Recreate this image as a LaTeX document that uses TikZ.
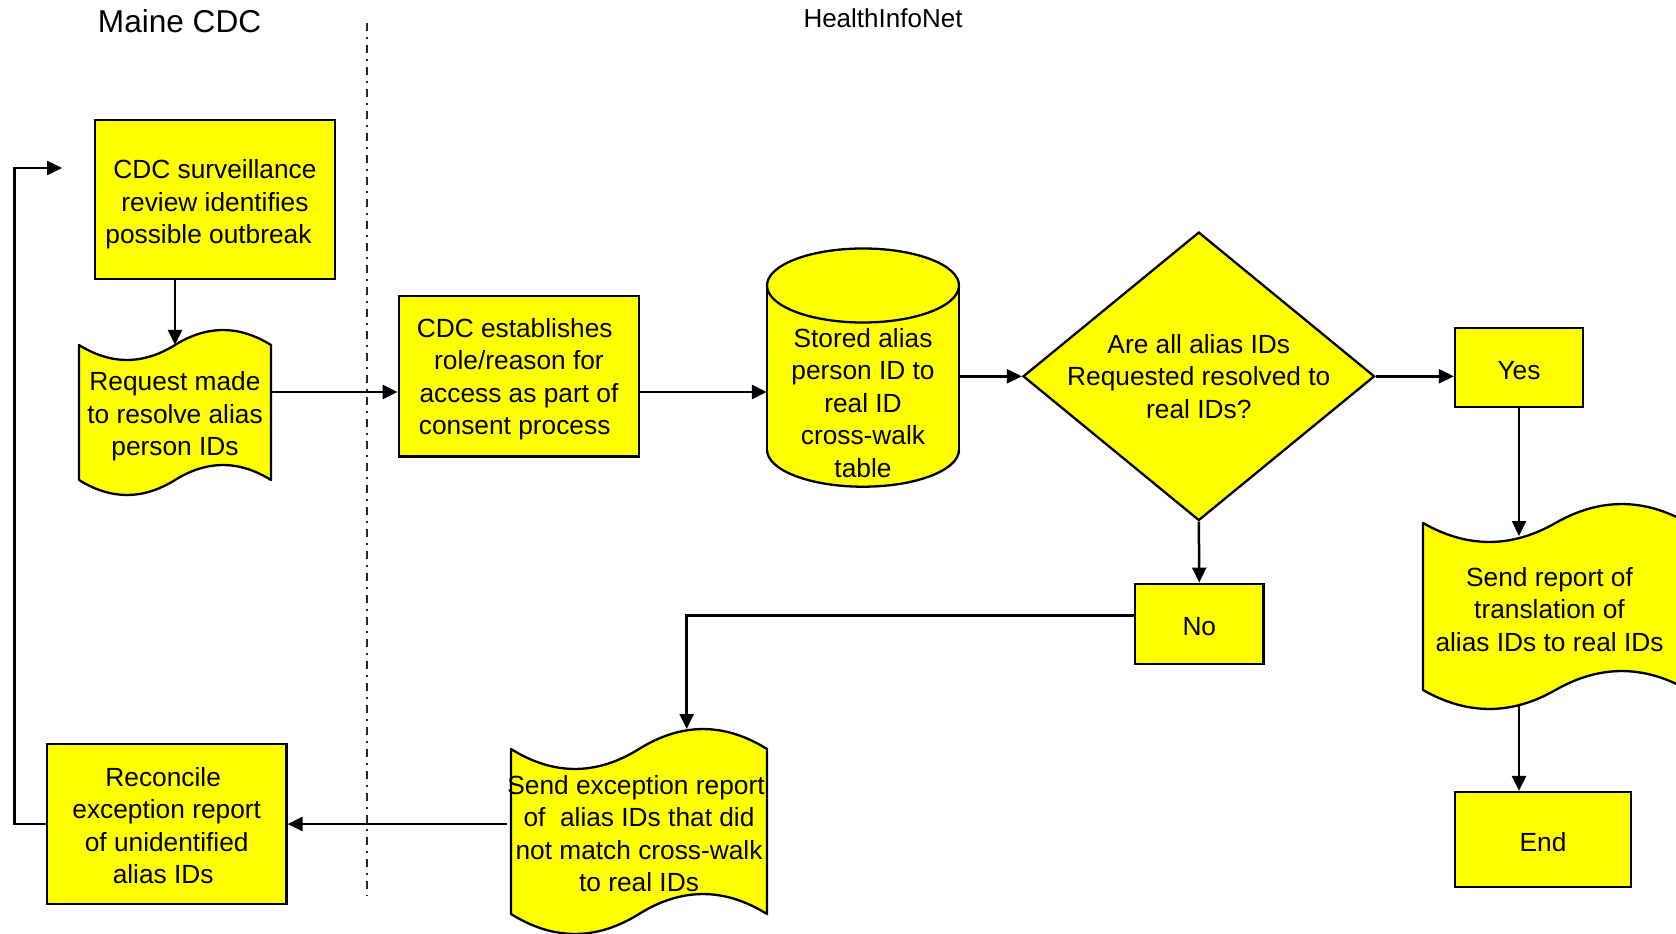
\documentclass[tikz,border=0pt]{standalone}
\usepackage{fontspec}
\setmainfont{Liberation Sans}
\usetikzlibrary{arrows.meta,shapes.geometric,calc}
\definecolor{fillyel}{RGB}{255,255,0}
\newcommand{\bodyfont}{\fontsize{26.3}{32.5}\selectfont}
% strut that pushes a text block down by half of #1
\newcommand{\dn}[1]{\rule{0pt}{\dimexpr 19.3pt+#1\relax}}
% wavy document outline: left x, top y0, width, height, amplitude
\newcommand{\wavedoc}[5]{%
  \draw[shapeline] (#1,#2)
    .. controls ({#1+#3/6},{#2+1.33*#5}) and ({#1+#3/3},{#2+1.33*#5}) .. ({#1+#3/2},#2)
    .. controls ({#1+2*#3/3},{#2-1.33*#5}) and ({#1+5*#3/6},{#2-1.33*#5}) .. ({#1+#3},#2)
    -- ({#1+#3},{#2+#4})
    .. controls ({#1+5*#3/6},{#2+#4-1.33*#5}) and ({#1+2*#3/3},{#2+#4-1.33*#5}) .. ({#1+#3/2},{#2+#4})
    .. controls ({#1+#3/3},{#2+#4+1.33*#5}) and ({#1+#3/6},{#2+#4+1.33*#5}) .. (#1,{#2+#4}) -- cycle;}
\begin{document}
\begin{tikzpicture}[x=1pt,y=-1pt,
  shapeline/.style={draw=black, fill=fillyel, line width=2.3pt, line join=round},
  box/.style={draw=black, fill=fillyel, line width=2.3pt, inner sep=0pt, align=center, font=\bodyfont},
  txt/.style={inner sep=0pt, align=center, font=\bodyfont},
  arr/.style={line width=2.5pt, -{Triangle[length=15pt,width=14pt]}},
  sep/.style={draw=black!85, line width=1.8pt, dash pattern=on 8pt off 6pt on 2pt off 6pt}]
\useasboundingbox (0,0) rectangle (1676,934);
\fill[white] (0,0) rectangle (1676,934);

% headers
\node[inner sep=0pt, font=\fontsize{31.6}{36}\selectfont] (hdrA) at (179.6,21.4) {Maine CDC};
\node[inner sep=0pt, font=\fontsize{26}{30}\selectfont] (hdrB) at (883,18) {HealthInfoNet};

% swimlane separator
\coordinate (sepTop) at (366.7,23);
\coordinate (sepBot) at (366.7,896);
\draw[sep] (sepTop) -- (sepBot);

% box 1
\node[box, minimum width=240pt, minimum height=159pt] (box1) at (215,199.5)
  {\dn{9.6pt}CDC surveillance\\review identifies\\possible outbreak\hspace*{13pt}};

% document 1
\wavedoc{79}{345}{192}{135}{15}
\node[txt, minimum width=192pt, minimum height=135pt] (doc1) at (175,412.5)
  {\dn{7.5pt}Request made\\to resolve alias\\person IDs};

% box 2
\node[box, minimum width=240.5pt, minimum height=160.4pt] (box2) at (519,376.2)
  {\dn{5.4pt}CDC establishes\hspace*{8.6pt}\\role/reason for\hspace*{8.6pt}\\access as part of\hspace*{8.6pt}\\consent process\hspace*{8.6pt}};

% cylinder
\fill[fillyel] (863,449.7) ellipse [x radius=96, y radius=37];
\fill[fillyel] (767,285.5) rectangle (959,449.7);
\draw[line width=2.3pt] (767,285.5) -- (767,449.7);
\draw[line width=2.3pt] (959,285.5) -- (959,449.7);
\draw[line width=2.3pt] (767,449.7) arc [start angle=180, end angle=0, x radius=96, y radius=37];
\draw[shapeline] (863,285.5) ellipse [x radius=96, y radius=37];
\node[inner sep=0pt, minimum width=192pt, minimum height=239pt] (cyl) at (863,367.5) {};
\node[txt] (cyltext) at (863,402.7)
  {Stored alias\\person ID to\\real ID\hspace*{10pt}\\cross-walk\\table};

% diamond
\node[diamond, draw=black, fill=fillyel, line width=2.3pt, inner sep=0pt,
  minimum width=351.6pt, minimum height=288.5pt] (dia) at (1198.8,376.3) {};
\node[txt] (diatext) at (1198.8,376.3)
  {Are all alias IDs\\Requested resolved to\\real IDs?};

% yes
\node[box, minimum width=128pt, minimum height=79pt] (yes) at (1519,367.5) {\dn{4.3pt}Yes};

% document 3 (cut by the right edge)
\begin{scope}
\clip (0,0) rectangle (1676,934);
\wavedoc{1423}{523}{265}{167}{19}
\end{scope}
\node[txt, minimum width=253pt, minimum height=167pt] (doc3) at (1549.5,606.5)
  {\dn{5.4pt}Send report of\\translation of\\alias IDs to real IDs};

% end
\node[box, minimum width=176pt, minimum height=95pt] (end) at (1543,839.5) {\dn{4.3pt}End};

% no
\node[box, minimum width=128.5pt, minimum height=80pt] (no) at (1199.3,623.7) {\dn{4.3pt}No};

% document 2
\wavedoc{511}{749}{256}{165}{20}
\node[txt, minimum width=256pt, minimum height=165pt] (doc2) at (639,831.5)
  {\dn{4.3pt}Send exception report\hspace*{6pt}\\of\ \ alias IDs that did\\not match cross-walk\\to real IDs};

% reconcile
\node[box, minimum width=239.5pt, minimum height=160pt] (rec) at (166.7,824)
  {\dn{3.2pt}Reconcile\hspace*{7pt}\\exception report\\of unidentified\\alias IDs\hspace*{7pt}};

% helper coordinates
\coordinate (row) at (0,392);
\coordinate (d3top) at (1519,536);
\coordinate (d3bot) at (1519,706);
\coordinate (d2top) at (686.7,729);
\coordinate (bendNo) at (686.7,615.7);
\coordinate (loopx) at (14.7,0);
\coordinate (loopend) at (62,168);

% connectors
\draw[arr] (box1.south -| doc1.north) -- (doc1.north);
\draw[arr] (doc1.east |- row) -- (box2.west |- row);
\draw[arr] (box2.east |- row) -- (cyl.west |- row);
\draw[arr] (cyl.east |- dia.west) -- (dia.west);
\draw[arr] (dia.east) -- (dia.east -| yes.west);
\draw[arr] (yes.south -| d3top) -- (d3top);
\draw[arr] (d3bot) -- (d3bot |- end.north);
\draw[arr] (dia.south) -- (no.north);
\draw[arr] (no.west |- bendNo) -- (bendNo) -- (d2top);
\draw[arr] (doc2.west |- rec.east) -- (rec.east);
\draw[arr] (rec.west) -- (rec.west -| loopx) |- (loopend);
\end{tikzpicture}
\end{document}
